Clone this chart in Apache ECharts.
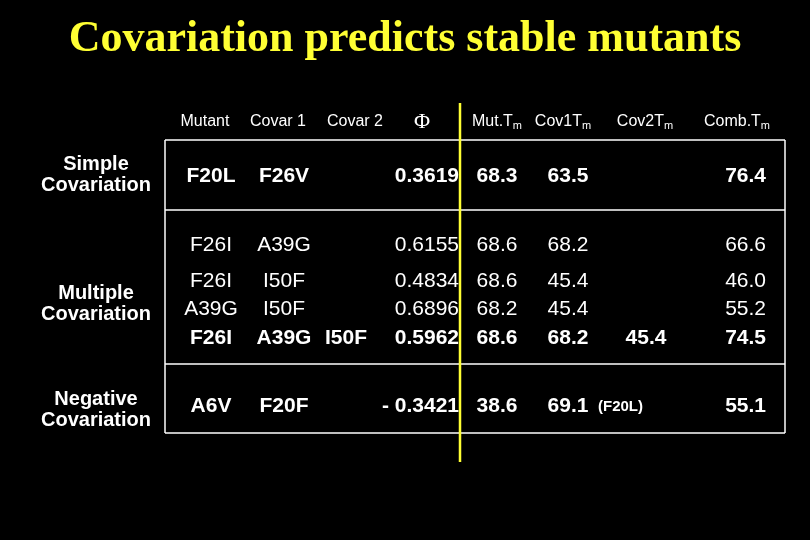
<!DOCTYPE html><html><head><meta charset="utf-8">
<script src="https://cdn.jsdelivr.net/npm/echarts@6/dist/echarts.min.js"></script>
<style>html,body{margin:0;background:#000}#c{width:810px;height:540px}</style></head><body><div id="c"></div>
<script>
const title = 'Covariation predicts stable mutants';
const headers = ['Mutant','Covar 1','Covar 2','Φ','Mut.T','Cov1T','Cov2T','Comb.T'];
const groups = [['Simple','Covariation'],['Multiple','Covariation'],['Negative','Covariation']];
const mut1 = ['F20L','F26I','F26I','A39G','F26I','A6V'];
const mut2 = ['F26V','A39G','I50F','I50F','A39G','F20F'];
const mut3 = ['','','','','I50F',''];
const phi = ['0.3619','0.6155','0.4834','0.6896','0.5962','- 0.3421'];
const mutTm = ['68.3','68.6','68.6','68.2','68.6','38.6'];
const cov1Tm = ['63.5','68.2','45.4','45.4','68.2','69.1'];
const cov2Tm = ['','','','','45.4',''];
const combTm = ['76.4','66.6','46.0','55.2','74.5','55.1'];
const boldRow = [true,false,false,false,true,true];

const rowY = [176,245,281,309,338,406];
const groupY = [175,304,410];
const g = [];
const W='#fff';
g.push({type:'text',x:405,y:40,style:{text:title,fill:'#ffff33',font:'bold 44px "Liberation Serif", serif',align:'center',verticalAlign:'middle'}});
const line=(x1,y1,x2,y2,c,w)=>g.push({type:'line',shape:{x1,y1,x2,y2},style:{stroke:c,lineWidth:w}});
line(165,140,165,433,W,1.5);line(165,140,785,140,W,1.5);line(785,140,785,433,W,1.5);line(165,433,785,433,W,1.5);
line(165,210,785,210,W,1.5);line(165,364,785,364,W,1.5);
line(460,103,460,462,'#ffff33',2.5);
const hx=[205,278,355,422,497,563,645,737];
headers.forEach((h,i)=>{
  const sub = i>=4;
  g.push({type:'text',x:hx[i],y:122,style:{text:sub?'{a|'+h+'}{s|m}':h,fill:W,font:(i==3?'22px "Liberation Serif"':'16px "Liberation Sans", Arial'),align:'center',verticalAlign:'middle',
    rich:{a:{fill:W,font:'16px "Liberation Sans", Arial'},s:{fill:W,font:'11px "Liberation Sans"',padding:[8,0,0,0]}}}});
});
groups.forEach((t,i)=>{
  g.push({type:'text',x:96,y:groupY[i],style:{text:t.join('\n'),fill:W,font:'bold 20px "Liberation Sans", Arial',align:'center',verticalAlign:'middle',lineHeight:21}});
});
rowY.forEach((y,r)=>{
  const f=(boldRow[r]?'bold ':'')+'21px "Liberation Sans", Arial';
  const cell=(t,x,al)=>{if(t)g.push({type:'text',x,y,style:{text:t,fill:W,font:f,align:al,verticalAlign:'middle'}});};
  cell(mut1[r],211,'center');cell(mut2[r],284,'center');cell(mut3[r],346,'center');
  cell(phi[r],459,'right');cell(mutTm[r],497,'center');cell(cov1Tm[r],568,'center');
  cell(cov2Tm[r],646,'center');cell(combTm[r],766,'right');
  if(r==5) g.push({type:'text',x:598,y:y+1,style:{text:'(F20L)',fill:W,font:'bold 15px "Liberation Sans"',align:'left',verticalAlign:'middle'}});
});
const ch=echarts.init(document.getElementById('c'));
ch.setOption({backgroundColor:'#000',graphic:g});
</script></body></html>
